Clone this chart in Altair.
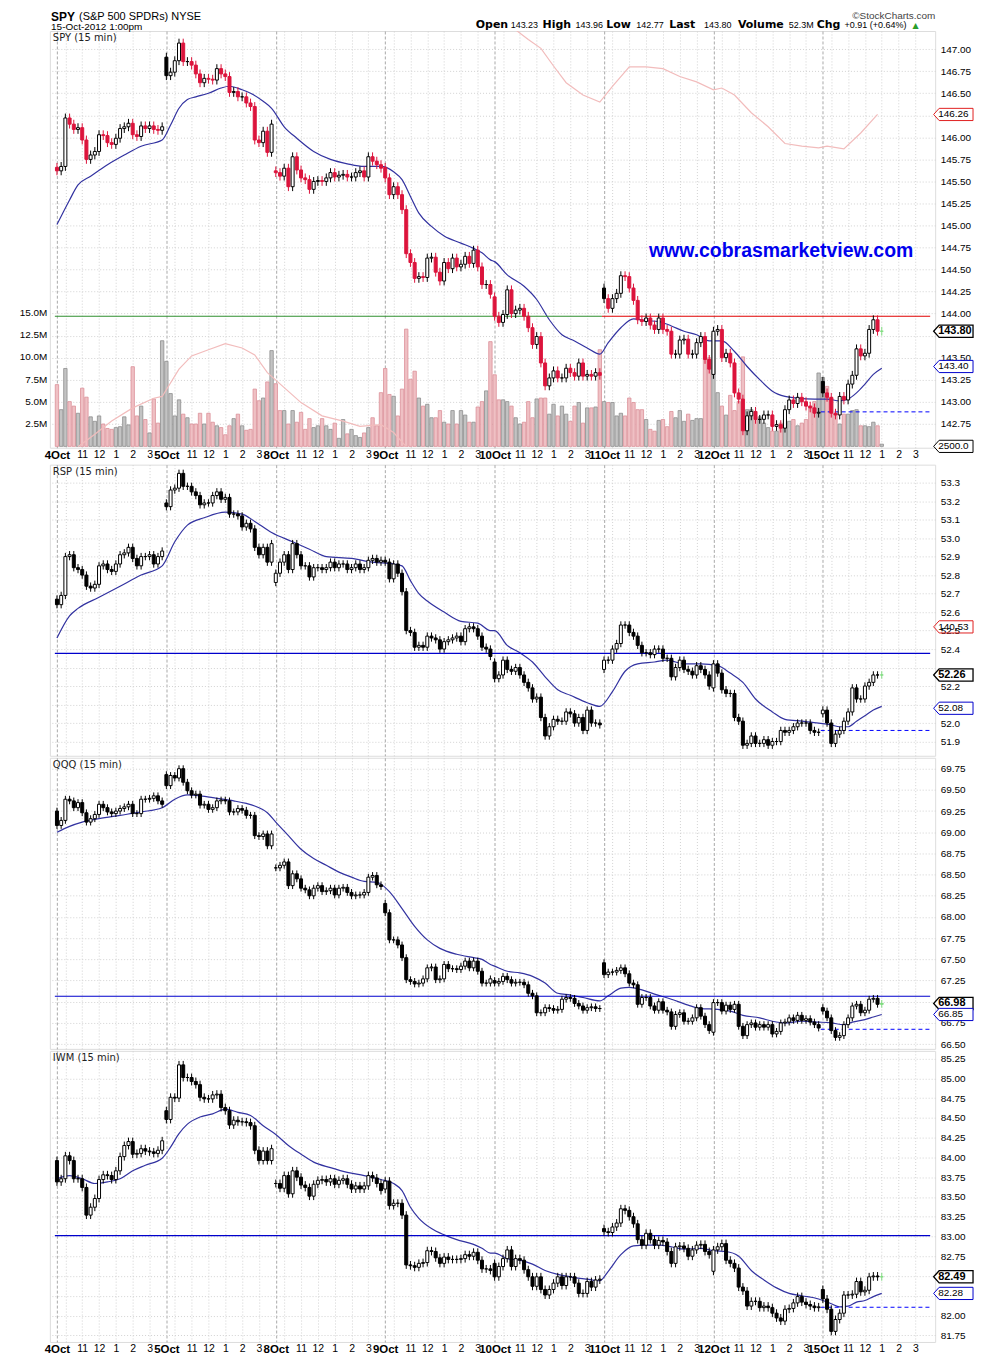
import altair as alt
import pandas as pd

# ---------------------------------------------------------------- data
DAYS = ["4Oct", "5Oct", "8Oct", "9Oct", "10Oct", "11Oct", "12Oct", "15Oct"]
BARS_PER_DAY = 26
N_SLOTS = 208
HOUR_TICKS = [0, 2, 6, 10, 14, 18, 22]
HOUR_TEXT = ["", "", "11", "12", "1", "2", "3"]

SPY_DAY_OPEN = [145.66, 146.91, 145.62, 145.66, 144.19, 144.29, 143.31, 143.23]
SPY_CLOSE = [
    145.62, 145.67, 146.22, 146.15, 146.09, 146.11, 145.97, 145.75, 145.80, 145.84, 146.03, 146.02, 145.94,
    145.92, 145.99, 146.10, 146.12, 146.16, 146.03, 146.01, 146.13, 146.10, 146.13, 146.09, 146.08, 146.12,
    146.70, 146.74, 146.87, 147.07, 146.86, 146.86, 146.82, 146.72, 146.62, 146.67, 146.66, 146.65, 146.78,
    146.72, 146.69, 146.51, 146.52, 146.46, 146.46, 146.39, 146.35, 145.97, 145.94, 146.07, 145.83, 146.15,
    145.60, 145.56, 145.65, 145.44, 145.78, 145.63, 145.54, 145.52, 145.41, 145.50, 145.51, 145.50, 145.54,
    145.60, 145.55, 145.57, 145.58, 145.55, 145.55, 145.60, 145.62, 145.55, 145.78, 145.73, 145.69, 145.65,
    145.54, 145.35, 145.44, 145.35, 145.18, 144.68, 144.58, 144.40, 144.42, 144.41, 144.63, 144.64, 144.47,
    144.37, 144.58, 144.51, 144.63, 144.53, 144.56, 144.65, 144.57, 144.72, 144.53, 144.33, 144.33, 144.22,
    143.97, 143.90, 143.99, 144.27, 144.00, 144.04, 144.06, 143.97, 143.84, 143.65, 143.74, 143.44, 143.18,
    143.27, 143.35, 143.27, 143.27, 143.38, 143.33, 143.29, 143.44, 143.29, 143.31, 143.29, 143.33, 143.30,
    144.17, 144.06, 144.17, 144.23, 144.43, 144.42, 144.29, 144.15, 143.93, 143.91, 143.95, 143.87, 143.82,
    143.95, 143.82, 143.80, 143.54, 143.54, 143.70, 143.71, 143.54, 143.54, 143.67, 143.74, 143.48, 143.37,
    143.80, 143.82, 143.50, 143.55, 143.44, 143.10, 143.03, 142.67, 142.84, 142.89, 142.80, 142.80, 142.85,
    142.85, 142.72, 142.74, 142.70, 142.91, 143.02, 142.98, 143.05, 143.00, 142.95, 142.93, 142.87, 142.88,
    143.10, 143.05, 142.87, 142.85, 143.06, 143.02, 143.20, 143.30, 143.60, 143.52, 143.55, 143.82, 143.93,
    143.80, 143.80,
]
SPY_VOL_M = [
    6.9, 4.1, 8.7, 5.0, 4.5, 3.7, 6.5, 5.5, 3.3, 2.8, 3.4, 2.5, 2.0, 1.9, 2.1, 2.2, 3.3, 2.4, 8.9, 3.4, 4.5, 3.0, 1.5, 5.3, 2.6, 11.8,
    9.5, 5.9, 3.4, 5.2, 3.6, 3.2, 2.5, 2.5, 3.7, 2.5, 3.7, 2.7, 2.3, 2.1, 1.3, 2.3, 3.1, 3.6, 2.3, 1.8, 1.9, 6.4, 5.1, 5.4, 7.2, 10.7,
    7.0, 4.0, 4.0, 2.5, 4.0, 2.7, 3.8, 1.9, 3.1, 2.1, 2.3, 3.1, 2.3, 1.9, 2.6, 0.9, 3.0, 1.4, 1.9, 1.2, 1.0, 1.5, 2.1, 3.2, 2.3, 6.0,
    8.7, 5.8, 5.6, 3.4, 6.4, 13.1, 7.5, 8.4, 5.4, 4.5, 4.7, 3.2, 3.2, 4.0, 2.7, 2.5, 4.0, 2.5, 4.0, 3.5, 2.7, 2.7, 4.4, 5.0, 6.2, 11.7,
    8.0, 5.2, 5.2, 5.0, 4.5, 3.2, 2.5, 2.7, 5.0, 3.2, 5.3, 5.4, 5.4, 3.6, 4.7, 3.4, 4.5, 3.6, 2.8, 4.5, 4.9, 2.6, 4.3, 4.3, 4.4, 10.8,
    5.0, 4.9, 4.9, 3.4, 3.7, 3.4, 5.4, 4.9, 4.1, 4.1, 3.0, 1.9, 1.7, 2.9, 3.0, 2.2, 3.9, 3.2, 4.0, 2.8, 3.6, 2.9, 3.1, 3.1, 11.4, 9.9,
    12.6, 6.0, 4.5, 3.5, 5.7, 4.0, 5.0, 10.0, 4.1, 4.1, 3.0, 3.3, 2.6, 2.1, 1.7, 1.7, 2.6, 3.0, 2.8, 3.0, 2.3, 2.6, 3.0, 4.5, 5.0, 8.2,
    7.7, 6.7, 5.4, 3.6, 2.5, 3.6, 3.6, 4.0, 4.1, 2.3, 2.3, 2.2, 2.7, 2.3, 0.25,
]
SPY_MA_X = [0, 3, 5, 8, 12, 16, 20, 25, 27, 29, 31, 33, 36, 39, 41, 44, 46, 49, 51, 54, 57, 61, 65, 69, 73, 77, 80,
            82, 84, 86, 89, 92, 96, 99, 101, 103, 104, 107, 111, 114, 117, 120, 123, 126, 129, 131, 134, 137, 140,
            143, 146, 149, 152, 155, 158, 161, 164, 167, 170, 173, 176, 180, 183, 186, 188, 190, 192, 194, 196]
SPY_MA = [145.01, 145.29, 145.46, 145.56, 145.69, 145.80, 145.90, 145.97, 146.14, 146.33, 146.43, 146.46, 146.50,
          146.56, 146.58, 146.54, 146.50, 146.41, 146.33, 146.12, 145.99, 145.84, 145.75, 145.70, 145.67, 145.67,
          145.61, 145.52, 145.33, 145.14, 144.99, 144.88, 144.80, 144.74, 144.69, 144.61, 144.59, 144.44, 144.31,
          144.16, 143.93, 143.76, 143.69, 143.61, 143.54, 143.67, 143.84, 143.94, 143.92, 143.91, 143.86, 143.80,
          143.76, 143.69, 143.69, 143.57, 143.40, 143.25, 143.12, 143.06, 143.04, 143.03, 143.03, 143.01, 143.03,
          143.10, 143.20, 143.31, 143.38]
PINK_A_X = [5, 9, 13, 18, 23, 25, 29, 32, 36, 40, 44, 47, 50, 54, 58, 63, 68, 72, 77, 80, 83]
PINK_A = [142.49, 142.63, 142.78, 142.93, 143.04, 143.06, 143.37, 143.52, 143.59, 143.66, 143.61, 143.53, 143.33,
          143.16, 142.99, 142.84, 142.78, 142.72, 142.74, 142.65, 142.49]
PINK_B_X = [109, 112, 115, 118, 121, 125, 129, 132, 136, 140, 144, 148, 152, 156, 158, 161, 165, 169, 173, 177,
            181, 183, 187, 191, 195]
PINK_B = [147.22, 147.11, 147.01, 146.81, 146.62, 146.48, 146.40, 146.58, 146.80, 146.80, 146.78, 146.69, 146.63,
          146.54, 146.56, 146.48, 146.28, 146.12, 145.93, 145.90, 145.88, 145.90, 145.87, 146.05, 146.26]
SPY_LEVEL = 143.97
SPY_LEVEL_SPLIT = 130
SPY_DASH = 142.885
SPY_PINK_LAST = 146.26

RSP_DAY_OPEN = [52.67, 53.19, 52.76, 52.88, 52.33, 52.29, 52.19, 52.05]
RSP_CLOSE = [
    52.64, 52.69, 52.90, 52.91, 52.84, 52.83, 52.80, 52.74, 52.73, 52.75, 52.85, 52.86, 52.83, 52.82, 52.86,
    52.91, 52.92, 52.95, 52.89, 52.85, 52.90, 52.90, 52.91, 52.86, 52.90, 52.93,
    53.17, 53.26, 53.27, 53.35, 53.28, 53.28, 53.25, 53.23, 53.18, 53.19, 53.19, 53.23, 53.25, 53.21, 53.22,
    53.13, 53.13, 53.12, 53.06, 53.08, 53.05, 52.95, 52.91, 52.95, 52.87, 52.97,
    52.81, 52.87, 52.91, 52.83, 52.97, 52.91, 52.85, 52.85, 52.79, 52.84, 52.84, 52.83, 52.84, 52.87, 52.84,
    52.86, 52.86, 52.83, 52.84, 52.86, 52.83, 52.84, 52.88, 52.89, 52.87, 52.88,
    52.87, 52.78, 52.86, 52.81, 52.71, 52.50, 52.49, 52.41, 52.42, 52.41, 52.47, 52.46, 52.45, 52.40, 52.44,
    52.45, 52.46, 52.47, 52.44, 52.51, 52.52, 52.51, 52.47, 52.41, 52.40, 52.36,
    52.24, 52.26, 52.34, 52.29, 52.28, 52.30, 52.26, 52.22, 52.19, 52.13, 52.14, 52.03, 51.93, 51.98, 52.02,
    52.01, 52.01, 52.06, 52.05, 52.00, 52.03, 51.96, 52.07, 52.00, 52.00, 51.99,
    52.34, 52.34, 52.40, 52.43, 52.53, 52.53, 52.49, 52.47, 52.42, 52.38, 52.38, 52.37, 52.40, 52.40, 52.35,
    52.35, 52.25, 52.30, 52.34, 52.29, 52.28, 52.26, 52.31, 52.29, 52.26, 52.20,
    52.32, 52.27, 52.18, 52.16, 52.16, 52.03, 52.01, 51.88, 51.89, 51.93, 51.89, 51.89, 51.91, 51.88, 51.90,
    51.90, 51.96, 51.95, 51.96, 51.98, 52.00, 52.00, 52.00, 51.96, 51.95, 51.95,
    52.07, 52.00, 51.89, 51.94, 51.96, 52.01, 52.06, 52.19, 52.13, 52.13, 52.20, 52.22, 52.26, 52.26, 52.26,
]
RSP_MA_X = [0, 3, 5, 10, 15, 20, 25, 28, 31, 35, 40, 44, 47, 51, 56, 60, 64, 70, 75, 80, 82, 84, 86, 88, 92, 96,
            100, 103, 104, 107, 110, 113, 116, 119, 122, 126, 129, 132, 135, 138, 142, 145, 149, 153, 157, 160,
            163, 166, 170, 173, 177, 181, 184, 186, 188, 190, 192, 194, 196]
RSP_MA = [52.46, 52.58, 52.62, 52.68, 52.74, 52.80, 52.85, 52.98, 53.07, 53.11, 53.14, 53.13, 53.09, 53.03, 52.98,
          52.94, 52.90, 52.89, 52.87, 52.86, 52.85, 52.77, 52.70, 52.66, 52.60, 52.55, 52.54, 52.50, 52.50, 52.42,
          52.38, 52.33, 52.25, 52.18, 52.15, 52.11, 52.09, 52.17, 52.28, 52.32, 52.33, 52.34, 52.32, 52.32, 52.31,
          52.27, 52.22, 52.13, 52.06, 52.02, 52.01, 52.00, 51.99, 51.98, 51.98, 52.01, 52.04, 52.07, 52.09]
RSP_LEVEL = 52.377
RSP_DASH = 51.96
RSP_OTHER_LABEL = 140.53
RSP_OTHER_AT = 52.52

QQQ_DAY_OPEN = [69.25, 69.68, 68.58, 68.16, 67.25, 67.46, 66.64, 66.93]
QQQ_CLOSE = [
    69.08, 69.14, 69.39, 69.37, 69.29, 69.35, 69.23, 69.12, 69.16, 69.21, 69.33, 69.29, 69.24, 69.22, 69.25,
    69.28, 69.30, 69.33, 69.22, 69.22, 69.39, 69.39, 69.40, 69.43, 69.37, 69.33,
    69.55, 69.67, 69.64, 69.75, 69.59, 69.49, 69.44, 69.45, 69.32, 69.33, 69.27, 69.29, 69.37, 69.38, 69.37,
    69.24, 69.24, 69.28, 69.26, 69.20, 69.20, 68.96, 68.95, 68.98, 68.84, 68.98,
    68.58, 68.61, 68.65, 68.37, 68.51, 68.45, 68.34, 68.32, 68.25, 68.34, 68.37, 68.30, 68.31, 68.34, 68.26,
    68.34, 68.35, 68.29, 68.25, 68.26, 68.26, 68.29, 68.47, 68.49, 68.38, 68.36,
    68.05, 67.73, 67.73, 67.67, 67.52, 67.26, 67.24, 67.21, 67.22, 67.27, 67.40, 67.41, 67.26, 67.27, 67.44,
    67.39, 67.39, 67.38, 67.42, 67.48, 67.40, 67.48, 67.36, 67.22, 67.22, 67.27,
    67.22, 67.24, 67.30, 67.26, 67.22, 67.23, 67.23, 67.20, 67.10, 67.07, 66.87, 66.87, 66.93, 66.92, 66.90,
    66.91, 67.03, 67.05, 67.04, 66.98, 66.95, 66.90, 66.93, 66.94, 66.92, 66.92,
    67.32, 67.35, 67.35, 67.37, 67.40, 67.33, 67.22, 67.20, 66.97, 67.05, 67.05, 66.95, 66.90, 67.00, 66.90,
    66.88, 66.71, 66.85, 66.87, 66.77, 66.77, 66.81, 66.93, 66.83, 66.73, 66.66,
    66.99, 66.99, 66.89, 66.96, 66.91, 66.97, 66.71, 66.60, 66.73, 66.75, 66.70, 66.73, 66.70, 66.73, 66.62,
    66.65, 66.75, 66.76, 66.81, 66.78, 66.84, 66.78, 66.80, 66.76, 66.73, 66.69,
    66.89, 66.81, 66.66, 66.58, 66.60, 66.73, 66.81, 66.95, 66.97, 66.87, 66.90, 67.03, 67.04, 66.97, 66.98,
]
QQQ_MA_X = [0, 3, 6, 10, 15, 20, 25, 28, 31, 34, 38, 42, 45, 47, 50, 52, 55, 58, 61, 64, 67, 70, 73, 76, 79, 82,
            85, 88, 91, 95, 99, 101, 103, 104, 107, 110, 113, 116, 119, 122, 125, 129, 131, 134, 136, 139, 142,
            146, 150, 153, 157, 160, 163, 167, 170, 173, 177, 181, 184, 187, 189, 192, 194, 196]
QQQ_MA = [69.00, 69.07, 69.12, 69.16, 69.20, 69.24, 69.29, 69.39, 69.44, 69.43, 69.40, 69.37, 69.34, 69.31, 69.23,
          69.12, 68.96, 68.80, 68.69, 68.61, 68.53, 68.47, 68.42, 68.41, 68.30, 68.10, 67.89, 67.73, 67.63, 67.56,
          67.52, 67.50, 67.44, 67.42, 67.36, 67.34, 67.30, 67.22, 67.10, 67.08, 67.05, 67.01, 67.07, 67.16, 67.17,
          67.14, 67.09, 67.03, 66.96, 66.92, 66.91, 66.89, 66.84, 66.81, 66.77, 66.75, 66.77, 66.76, 66.75, 66.73,
          66.76, 66.79, 66.82, 66.85]
QQQ_LEVEL = 67.065
QQQ_DASH = 66.675

IWM_DAY_OPEN = [83.96, 84.59, 83.67, 83.60, 82.66, 83.10, 82.56, 82.33]
IWM_CLOSE = [
    83.69, 83.73, 84.02, 83.96, 83.73, 83.73, 83.62, 83.27, 83.37, 83.48, 83.72, 83.78, 83.77, 83.72, 83.83,
    84.01, 84.15, 84.20, 84.04, 84.05, 84.11, 84.08, 84.07, 84.05, 84.09, 84.21,
    84.48, 84.76, 84.75, 85.17, 85.01, 85.01, 84.96, 84.92, 84.76, 84.74, 84.74, 84.79, 84.80, 84.63, 84.59,
    84.41, 84.47, 84.45, 84.45, 84.44, 84.40, 84.09, 83.96, 84.08, 83.96, 84.11,
    83.67, 83.61, 83.77, 83.54, 83.83, 83.75, 83.65, 83.62, 83.51, 83.66, 83.71, 83.72, 83.69, 83.73, 83.66,
    83.71, 83.73, 83.66, 83.60, 83.64, 83.60, 83.64, 83.77, 83.74, 83.67, 83.58,
    83.70, 83.39, 83.42, 83.42, 83.27, 82.64, 82.63, 82.61, 82.66, 82.67, 82.82, 82.81, 82.73, 82.66, 82.74,
    82.71, 82.71, 82.71, 82.72, 82.77, 82.75, 82.80, 82.70, 82.59, 82.59, 82.57,
    82.49, 82.62, 82.72, 82.83, 82.62, 82.72, 82.70, 82.58, 82.49, 82.37, 82.49, 82.33, 82.26, 82.33, 82.41,
    82.49, 82.38, 82.49, 82.49, 82.41, 82.28, 82.28, 82.43, 82.36, 82.45, 82.46,
    83.06, 83.05, 83.12, 83.17, 83.35, 83.33, 83.25, 83.16, 82.96, 82.89, 83.04, 82.96, 82.89, 82.95, 82.93,
    82.81, 82.66, 82.87, 82.88, 82.85, 82.75, 82.83, 82.89, 82.90, 82.81, 82.77,
    82.83, 82.87, 82.91, 82.70, 82.66, 82.60, 82.36, 82.31, 82.12, 82.18, 82.18, 82.10, 82.12, 82.10, 82.03,
    81.97, 81.93, 82.08, 82.09, 82.16, 82.24, 82.17, 82.14, 82.12, 82.10, 82.11,
    82.21, 82.08, 81.80, 81.95, 82.03, 82.26, 82.26, 82.27, 82.43, 82.30, 82.32, 82.49, 82.50, 82.49, 82.49,
]
IWM_MA_X = [0, 3, 6, 9, 12, 15, 18, 21, 25, 27, 29, 31, 34, 37, 40, 43, 46, 49, 52, 55, 58, 61, 65, 69, 73, 77,
            80, 82, 84, 86, 89, 92, 95, 99, 101, 103, 104, 107, 110, 113, 116, 119, 122, 126, 129, 131, 134, 137,
            140, 143, 146, 149, 153, 156, 159, 162, 165, 168, 171, 174, 177, 181, 184, 186, 188, 190, 192, 194, 196]
IWM_MA = [83.73, 83.77, 83.73, 83.67, 83.69, 83.73, 83.83, 83.90, 83.99, 84.13, 84.30, 84.42, 84.51, 84.55, 84.61,
          84.57, 84.53, 84.40, 84.29, 84.15, 84.04, 83.94, 83.87, 83.81, 83.77, 83.72, 83.67, 83.58, 83.37, 83.23,
          83.10, 83.02, 82.96, 82.90, 82.85, 82.79, 82.79, 82.72, 82.70, 82.65, 82.57, 82.52, 82.49, 82.46, 82.44,
          82.56, 82.77, 82.88, 82.89, 82.89, 82.87, 82.84, 82.85, 82.82, 82.81, 82.75, 82.57, 82.45, 82.35, 82.28,
          82.25, 82.21, 82.15, 82.11, 82.12, 82.17, 82.19, 82.24, 82.28]
IWM_LEVEL = 83.01
IWM_DASH = 82.105

HEADER_STATS = [("Open", "143.23"), ("High", "143.96"), ("Low", "142.77"), ("Last", "143.80"),
                ("Volume", "52.3M"), ("Chg", "+0.91 (+0.64%)")]

# ---------------------------------------------------------------- style
FONT = "Liberation Sans"
RED = "#dc143c"
GREEN_LAST = "#7fdc7f"
MA_BLUE = "#3232a0"
PINK_LINE = "#f2bcbc"
PLOT_W = 888
BOX_PATH = "M -1 0 L -0.72 -0.31 L 1 -0.31 L 1 0.31 L -0.72 0.31 Z"
BOX_SIZE = 1560
BOX_CX = 906.25
BOX_TX = 891

X_SCALE = alt.Scale(domain=[0, N_SLOTS], nice=False, zero=False)
X_TICKS = [d * BARS_PER_DAY + off + 0.5 for d in range(len(DAYS)) for off in HOUR_TICKS]
DAY_TEST = "((datum.value - 0.5) % 26) == 0"
_day_list = "[" + ",".join("'{}'".format(d) for d in DAYS) + "]"
_hour_parts = ["((datum.value - 0.5) % 26) == {} ? '{}'".format(o, t) for o, t in zip(HOUR_TICKS[1:], HOUR_TEXT[1:])]
LABEL_EXPR = DAY_TEST + " ? " + _day_list + "[floor(datum.value / 26)] : " + " : ".join(_hour_parts) + " : ''"

ONE = pd.DataFrame({"k": [0]})


def x_axis(labels):
    return alt.Axis(values=X_TICKS, labelExpr=LABEL_EXPR, labels=labels, ticks=False, domain=False, grid=True,
                    gridColor={"condition": {"test": DAY_TEST, "value": "#a9a9a9"}, "value": "#d2d2d2"},
                    gridDash={"condition": {"test": DAY_TEST, "value": [3, 2]}, "value": [1, 2]},
                    labelFontWeight={"condition": {"test": DAY_TEST, "value": "bold"}, "value": "normal"},
                    labelFontSize={"condition": {"test": DAY_TEST, "value": 11.5}, "value": 10.5},
                    labelPadding=2, labelOverlap=False, labelFlush=False, labelAngle=0,
                    labelColor="#000", labelFont=FONT, title=None)


def y_axis(values, fmt, covered=()):
    # tick labels that sit under a value box are left blank (their grid line stays)
    expr = "format(datum.value, '%s')" % fmt
    for v in covered:
        expr = "abs(datum.value - {}) < 0.001 ? '' : ".format(v) + expr
    return alt.Axis(orient="right", values=values, labelExpr=expr, ticks=False, domain=False, grid=True,
                    gridColor="#d2d2d2", gridDash=[1, 2], labelPadding=5, labelFontSize=10, labelFont=FONT,
                    labelColor="#000", labelOverlap=False, labelFlush=False, title=None)


VOL_AXIS = alt.Axis(orient="left", values=[2.5, 5, 7.5, 10, 12.5, 15], grid=False, ticks=False, domain=False,
                    labelExpr="format(datum.value, '.1f') + 'M'", labelFont=FONT, labelFontSize=10,
                    labelPadding=3, labelColor="#000", labelOverlap=False, labelFlush=False, title=None)


def text_at(s, x, y, size=10, weight="normal", color="#000", align="left", baseline="alphabetic", font=FONT):
    return alt.Chart(ONE).mark_text(text=s, align=align, baseline=baseline, fontSize=size, fontWeight=weight,
                                    color=color, font=font).encode(x=alt.value(x), y=alt.value(y))


def build_candles(close, day_open, wick, two_color):
    rows = []
    for i, c in enumerate(close):
        o = day_open[i // BARS_PER_DAY] if i % BARS_PER_DAY == 0 else close[i - 1]
        prev = close[i - 1] if i > 0 else o
        col = "red" if (two_color and c < prev) else "black"
        fill = "white" if c > o else col
        if i == len(close) - 1:
            col = fill = "last"
        rows.append({"xc": i + 0.5, "o": o, "c": c, "hi": max(o, c) + wick, "lo": min(o, c) - wick,
                     "col": col, "fill": fill, "vdir": "up" if c >= prev else "down"})
    return pd.DataFrame(rows)


COLOR_COND = {"condition": [{"test": "datum.col == 'red'", "value": RED},
                            {"test": "datum.col == 'last'", "value": GREEN_LAST}], "value": "#000000"}
FILL_COND = {"condition": [{"test": "datum.fill == 'white'", "value": "#ffffff"},
                           {"test": "datum.fill == 'red'", "value": RED},
                           {"test": "datum.fill == 'last'", "value": GREEN_LAST}], "value": "#000000"}


class Panel:
    def __init__(self, yscale, xaxis, yaxis):
        self.ys = yscale
        self.xa = xaxis
        self.ya = yaxis

    def X(self, field):
        return alt.X(field + ":Q", scale=X_SCALE, axis=self.xa, title=None)

    def Y(self, field):
        return alt.Y(field + ":Q", scale=self.ys, axis=self.ya, title=None)


def box_layers(p, value, label, stroke, bold=False, filled=True, text_color="#000"):
    d = pd.DataFrame({"v": [value], "t": [label], "xc": [N_SLOTS]})
    shape = alt.Chart(d).mark_point(shape=BOX_PATH, size=BOX_SIZE, filled=filled,
                                    color="#ffffff" if filled else stroke, stroke=stroke,
                                    strokeWidth=1.3 if bold else 1, opacity=1, fillOpacity=1).encode(
        x=alt.value(BOX_CX), y=p.Y("v"))
    txt = alt.Chart(d).mark_text(align="left", baseline="middle", font=FONT, fontSize=11 if bold else 10,
                                 fontWeight="bold" if bold else "normal", color=text_color).encode(
        x=alt.value(BOX_TX), y=p.Y("v"), text="t:N")
    return [shape, txt]


def price_group(p, df, ma_x, ma_v, level_rows, dash_v, title, boxes, extra=()):
    layers = []
    for xs, vs in extra:
        d = pd.DataFrame({"xc": [x + 0.5 for x in xs], "v": vs})
        layers.append(alt.Chart(d).mark_line(color=PINK_LINE, strokeWidth=1.2, clip=True).encode(
            x=p.X("xc"), y=p.Y("v")))
    ma_df = pd.DataFrame({"xc": [x + 0.5 for x in ma_x], "v": ma_v})
    layers.append(alt.Chart(ma_df).mark_line(color=MA_BLUE, strokeWidth=1.2, interpolate="monotone",
                                             clip=True).encode(x=p.X("xc"), y=p.Y("v")))
    lv = pd.DataFrame(level_rows)
    layers.append(alt.Chart(lv).mark_rule(strokeWidth=1.2).encode(
        x=p.X("x0"), x2="x1:Q", y=p.Y("v"),
        color={"condition": [{"test": "datum.k == 'green'", "value": "#2f8f2f"},
                             {"test": "datum.k == 'red'", "value": "#e00000"}], "value": "#0000cc"}))
    dd = pd.DataFrame({"x0": [26 * 7], "x1": [N_SLOTS], "v": [dash_v]})
    layers.append(alt.Chart(dd).mark_rule(strokeWidth=1, strokeDash=[4, 3], color="#0000ff").encode(
        x=p.X("x0"), x2="x1:Q", y=p.Y("v")))
    layers.append(alt.Chart(df).mark_rule(strokeWidth=1).encode(
        x=p.X("xc"), y=p.Y("lo"), y2="hi:Q", color=COLOR_COND))
    layers.append(alt.Chart(df).mark_bar(size=3, strokeWidth=1).encode(
        x=p.X("xc"), y=p.Y("o"), y2="c:Q", fill=FILL_COND, stroke=COLOR_COND))
    for b in boxes:
        layers += box_layers(p, **b)
    layers.append(text_at(title, 3, 7, size=10, baseline="middle", font="DejaVu Sans", color="#222"))
    return layers


def full_level(v):
    return [{"x0": 0, "x1": N_SLOTS, "v": v, "k": "blue"}]


def ticks_range(lo, hi, step, nd):
    n = int(round((hi - lo) / step))
    return [round(lo + k * step, nd) for k in range(n + 1)]


# ---------------------------------------------------------------- SPY panel
spy_df = build_candles(SPY_CLOSE, SPY_DAY_OPEN, 0.05, True)
spy_df["vol"] = SPY_VOL_M
XA_LABELS = x_axis(True)
XA_PLAIN = x_axis(False)

vp = Panel(alt.Scale(domain=[-0.15, 46.4], nice=False, zero=False), XA_LABELS, VOL_AXIS)
vol_bars = alt.Chart(spy_df).mark_bar(size=3.4, strokeWidth=0.8).encode(
    x=vp.X("xc"), y=vp.Y("vol"),
    fill={"condition": {"test": "datum.vdir == 'up'", "value": "#c3c3c3"}, "value": "#efc0c4"},
    stroke={"condition": {"test": "datum.vdir == 'up'", "value": "#8e8e8e"}, "value": "#dc9199"})
vol_group = alt.layer(vol_bars, *box_layers(vp, SPY_VOL_M[-1] / 100.0, "%.1f" % (SPY_VOL_M[-1] * 10000), "#000"))

pp = Panel(alt.Scale(domain=[142.478, 147.207], nice=False, zero=False), XA_LABELS,
           y_axis(ticks_range(142.75, 147.0, 0.25, 2), ".2f", covered=[143.75]))
spy_levels = [{"x0": 0, "x1": SPY_LEVEL_SPLIT, "v": SPY_LEVEL, "k": "green"},
              {"x0": SPY_LEVEL_SPLIT, "x1": N_SLOTS, "v": SPY_LEVEL, "k": "red"}]
spy_boxes = [dict(value=SPY_PINK_LAST, label="%.2f" % SPY_PINK_LAST, stroke="#e02020"),
             dict(value=SPY_CLOSE[-1], label="%.2f" % SPY_CLOSE[-1], stroke="#000", bold=True),
             dict(value=SPY_MA[-1] + 0.02, label="%.2f" % (SPY_MA[-1] + 0.02), stroke="#0000cc")]
spy_price = price_group(pp, spy_df, SPY_MA_X, SPY_MA, spy_levels, SPY_DASH, "SPY (15 min)", spy_boxes,
                        extra=[(PINK_A_X, PINK_A), (PINK_B_X, PINK_B)])

LBL_FONT = "DejaVu Sans"
header = [
    text_at("SPY", 1.2, -10, size=12, weight="bold"),
    text_at("(S&P 500 SPDRs) NYSE", 29.2, -11, size=11),
    text_at("15-Oct-2012 1:00pm", 1.2, -1, size=10),
    text_at("\u00a9StockCharts.com", 888.2, -12, size=10, align="right", color="#444"),
    text_at("\u25b2", 865.2, -3, size=8, color="#2a9d2a", font=LBL_FONT),
    text_at("www.cobrasmarketview.com", 601, 221, size=19.5, weight="bold", color="#0000ee", baseline="middle"),
]
stat_x = [427.2, 494.2, 558.2, 621.2, 690.2, 769.2]
val_x = [462.2, 527.2, 588.2, 656.2, 741.2, 797.2]
for (lab, val), lx, vx in zip(HEADER_STATS, stat_x, val_x):
    header.append(text_at(lab, lx, -3, size=11, weight="bold", font=LBL_FONT))
    header.append(text_at(val, vx, -3, size=9))

price_layer = alt.layer(*spy_price, *header)
spy = alt.layer(vol_group, price_layer).resolve_scale(y="independent").resolve_axis(y="independent").properties(
    width=PLOT_W, height=418)

# ---------------------------------------------------------------- RSP / QQQ / IWM
rsp_df = build_candles(RSP_CLOSE, RSP_DAY_OPEN, 0.02, False)
rp = Panel(alt.Scale(domain=[51.823, 53.397], nice=False, zero=False), XA_PLAIN,
           y_axis(ticks_range(51.9, 53.3, 0.1, 1), ".1f", covered=[52.1, 52.3]))
rsp_boxes = [dict(value=RSP_OTHER_AT, label="%.2f" % RSP_OTHER_LABEL, stroke="#e02020", filled=False),
             dict(value=RSP_CLOSE[-1], label="%.2f" % RSP_CLOSE[-1], stroke="#000", bold=True),
             dict(value=RSP_MA[-1] - 0.01, label="%.2f" % (RSP_MA[-1] - 0.01), stroke="#0000cc")]
rsp = alt.layer(*price_group(rp, rsp_df, RSP_MA_X, RSP_MA, full_level(RSP_LEVEL), RSP_DASH, "RSP (15 min)",
                             rsp_boxes)).properties(width=PLOT_W, height=292)

qqq_df = build_candles(QQQ_CLOSE, QQQ_DAY_OPEN, 0.04, False)
qp = Panel(alt.Scale(domain=[66.444, 69.879], nice=False, zero=False), XA_PLAIN,
           y_axis(ticks_range(66.5, 69.75, 0.25, 2), ".2f", covered=[67.0]))
qqq_boxes = [dict(value=QQQ_CLOSE[-1], label="%.2f" % QQQ_CLOSE[-1], stroke="#000", bold=True),
             dict(value=QQQ_MA[-1], label="%.2f" % QQQ_MA[-1], stroke="#0000cc")]
qqq = alt.layer(*price_group(qp, qqq_df, QQQ_MA_X, QQQ_MA, full_level(QQQ_LEVEL), QQQ_DASH, "QQQ (15 min)",
                             qqq_boxes)).properties(width=PLOT_W, height=292)

iwm_df = build_candles(IWM_CLOSE, IWM_DAY_OPEN, 0.05, False)
ip = Panel(alt.Scale(domain=[81.666, 85.347], nice=False, zero=False), XA_LABELS,
           y_axis(ticks_range(81.75, 85.25, 0.25, 2), ".2f", covered=[82.25]))
iwm_boxes = [dict(value=IWM_CLOSE[-1], label="%.2f" % IWM_CLOSE[-1], stroke="#000", bold=True),
             dict(value=IWM_MA[-1], label="%.2f" % IWM_MA[-1], stroke="#0000cc")]
iwm = alt.layer(*price_group(ip, iwm_df, IWM_MA_X, IWM_MA, full_level(IWM_LEVEL), IWM_DASH, "IWM (15 min)",
                             iwm_boxes)).properties(width=PLOT_W, height=292)

lower = alt.vconcat(rsp, qqq, iwm, spacing=0)
chart = alt.vconcat(spy, lower, spacing=2).properties(
    padding={"left": 10, "top": 0, "right": 5, "bottom": 0}, background="white"
).configure_view(stroke="#b4b4b4", strokeWidth=1).configure(font=FONT)

chart.save("out.html", embed_options={"renderer": "svg", "actions": False})
